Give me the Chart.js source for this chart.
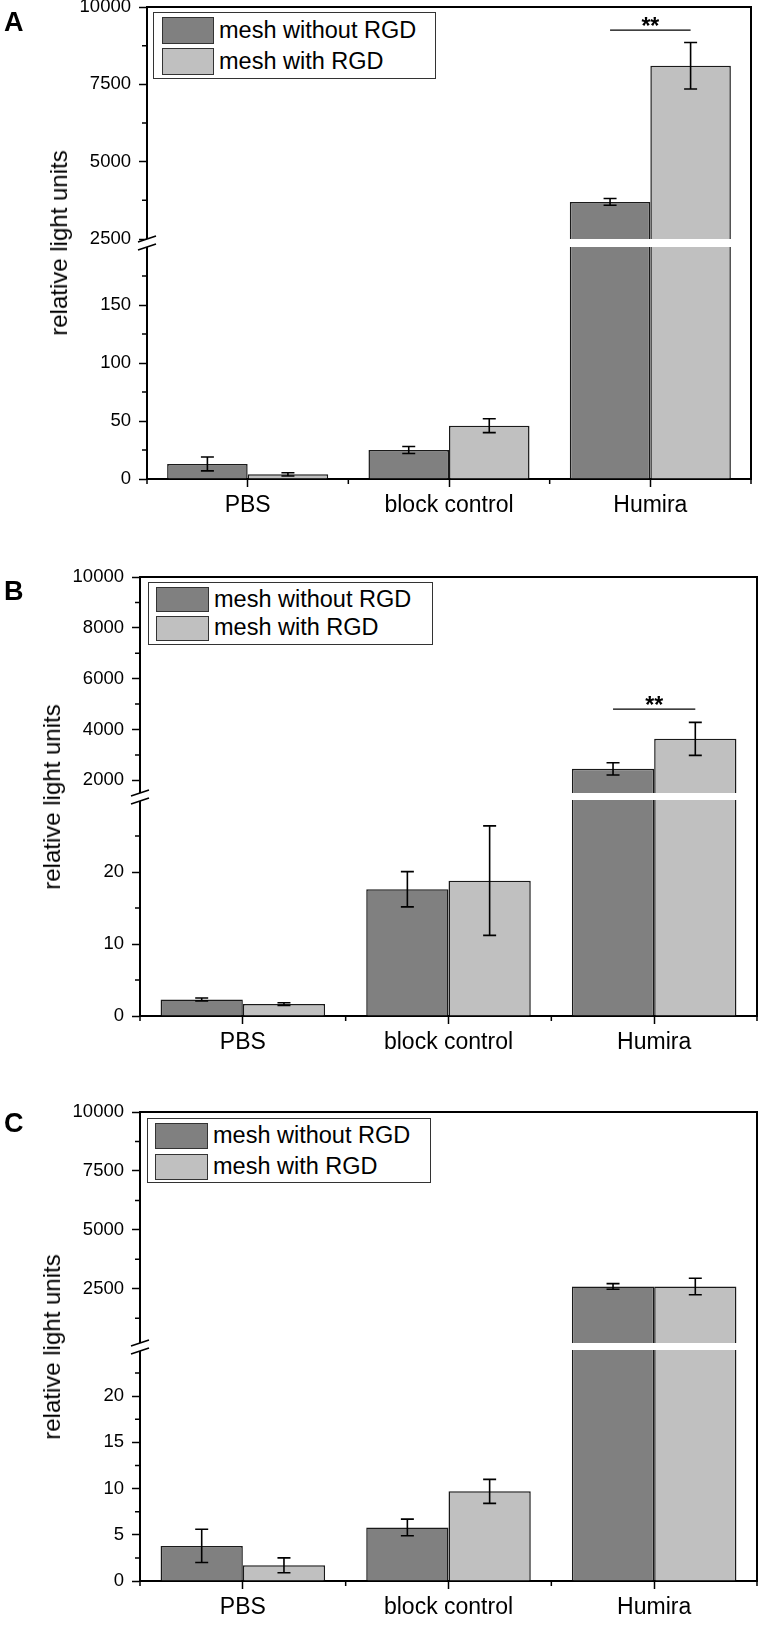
<!DOCTYPE html>
<html>
<head>
<meta charset="utf-8">
<script src="https://cdn.jsdelivr.net/npm/chart.js@4.4.0/dist/chart.umd.min.js"></script>
<style>
  html, body { margin: 0; padding: 0; background: #fff; }
  body { width: 759px; height: 1626px; position: relative; overflow: hidden;
         font-family: 'Liberation Sans', Arial, sans-serif; color: #000; }
  canvas { position: absolute; left: 0; }
  .letter { position: absolute; font-weight: bold; font-size: 27px; line-height: 1; }
  .ytitle { position: absolute; font-size: 24px; line-height: 1; white-space: nowrap;
            transform: translate(-50%, -50%) rotate(-90deg); }
  .legend { position: absolute; box-sizing: border-box; border: 1.5px solid #333; background: #fff; }
  .legend .sw { position: absolute; box-sizing: border-box; border: 1.5px solid #333; }
  .legend .tx { position: absolute; font-size: 23.5px; line-height: 1; white-space: nowrap;
                transform: translateY(-50%); }
</style>
</head>
<body>
<script>
// ---- shared categories and series ----
const categories = ['PBS', 'block control', 'Humira'];
const seriesNames = ['mesh without RGD', 'mesh with RGD'];
const seriesColors = ['#808080', '#c0c0c0'];
const yTitle = 'relative light units';
const sigText = '**';

// ---- panel A ----
const aWithout = [13, 25, 3700];
const aWithoutErr = [6, 3, 110];
const aWith = [4, 46, 8100];
const aWithErr = [1.4, 6, 750];
const aUpperRange = [2500, 10000];
const aUpperTicks = [2500, 5000, 7500, 10000];
const aUpperMinor = [3750, 6250, 8750];
const aLowerRange = [0, 200];
const aLowerTicks = [0, 50, 100, 150];
const aLowerMinor = [25, 75, 125, 175];
const aSigLevel = 9250;

// ---- panel B ----
const bWithout = [2.3, 17.6, 2450];
const bWithoutErr = [0.2, 2.45, 240];
const bWith = [1.65, 18.8, 3630];
const bWithErr = [0.2, 7.6, 650];
const bUpperRange = [1500, 10000];
const bUpperTicks = [2000, 4000, 6000, 8000, 10000];
const bUpperMinor = [3000, 5000, 7000, 9000];
const bLowerRange = [0, 30];
const bLowerTicks = [0, 10, 20];
const bLowerMinor = [5, 15, 25];
const bSigLevel = 4800;

// ---- panel C ----
const cWithout = [3.8, 5.8, 2600];
const cWithoutErr = [1.8, 0.9, 120];
const cWith = [1.7, 9.7, 2600];
const cWithErr = [0.8, 1.3, 350];
const cUpperRange = [200, 10000];
const cUpperTicks = [2500, 5000, 7500, 10000];
const cUpperMinor = [1250, 3750, 6250, 8750];
const cLowerRange = [0, 25];
const cLowerTicks = [0, 5, 10, 15, 20];
const cLowerMinor = [2.5, 7.5, 12.5, 17.5, 22.5];

const FONT = "'Liberation Sans', Arial, sans-serif";
const GAP = 8;      // white gap of the broken axis
const PAD = 24;     // canvas padding around each plot segment
const XAXIS_H = 45; // height reserved for the category axis

// Error bars, significance bracket, frame, minor ticks and axis break marks
const decorPlugin = {
  id: 'decor',
  afterDatasetsDraw(chart, args, o) {
    const ctx = chart.ctx, y = chart.scales.y;
    ctx.save();
    ctx.strokeStyle = '#000';
    ctx.lineWidth = 1.6;
    o.errors.forEach((errs, i) => {
      const meta = chart.getDatasetMeta(i);
      chart.data.datasets[i].data.forEach((v, j) => {
        if (v < y.min || v > y.max) return;
        const cx = meta.data[j].x;
        const t = y.getPixelForValue(v + errs[j]);
        const b = y.getPixelForValue(v - errs[j]);
        ctx.beginPath();
        ctx.moveTo(cx, t); ctx.lineTo(cx, b);
        ctx.moveTo(cx - 6.5, t); ctx.lineTo(cx + 6.5, t);
        ctx.moveTo(cx - 6.5, b); ctx.lineTo(cx + 6.5, b);
        ctx.stroke();
      });
    });
    if (o.sig) {
      const p0 = chart.getDatasetMeta(0).data[o.sig.index];
      const p1 = chart.getDatasetMeta(1).data[o.sig.index];
      const ly = y.getPixelForValue(o.sig.level);
      ctx.lineWidth = 1.2;
      ctx.beginPath();
      ctx.moveTo(p0.x, ly); ctx.lineTo(p1.x, ly);
      ctx.stroke();
      ctx.fillStyle = '#000';
      ctx.font = 'bold 23px ' + FONT;
      ctx.textAlign = 'center';
      ctx.textBaseline = 'alphabetic';
      ctx.fillText(o.sig.text, (p0.x + p1.x) / 2, ly + 3.5);
    }
    ctx.restore();
  },
  afterDraw(chart, args, o) {
    const ctx = chart.ctx, a = chart.chartArea, y = chart.scales.y, x = chart.scales.x;
    ctx.save();
    ctx.strokeStyle = '#000';
    // frame: top line and right line
    ctx.lineWidth = 2;
    ctx.beginPath();
    if (o.upper) {
      ctx.moveTo(a.left, a.top); ctx.lineTo(a.right, a.top);
      ctx.moveTo(a.right, a.top - 1); ctx.lineTo(a.right, a.bottom + GAP);
    } else {
      ctx.moveTo(a.right, a.top); ctx.lineTo(a.right, a.bottom);
    }
    ctx.stroke();
    // minor ticks on the value axis
    ctx.lineWidth = 1.5;
    ctx.beginPath();
    o.minor.forEach(v => {
      const py = y.getPixelForValue(v);
      ctx.moveTo(a.left - 1, py); ctx.lineTo(a.left - 5, py);
    });
    // minor ticks on the category axis, at group boundaries
    if (!o.upper) {
      const xs = [a.left, a.right];
      for (let j = 0; j < categories.length - 1; j++) {
        xs.push((x.getPixelForValue(j) + x.getPixelForValue(j + 1)) / 2);
      }
      xs.forEach(px => { ctx.moveTo(px, a.bottom); ctx.lineTo(px, a.bottom + 5); });
    }
    ctx.stroke();
    // break marks on the value axis
    if (o.upper) {
      const ax = a.left, g0 = a.bottom, g1 = a.bottom + GAP;
      ctx.fillStyle = '#fff';
      ctx.fillRect(ax - 3, g0, 6, GAP);
      ctx.lineWidth = 1.6;
      ctx.beginPath();
      [g0, g1].forEach(gy => { ctx.moveTo(ax - 9, gy + 3); ctx.lineTo(ax + 9, gy - 3); });
      ctx.stroke();
    }
    ctx.restore();
  }
};

// One plot segment (upper or lower part of a broken value axis)
function segment(cfg) {
  const cv = document.createElement('canvas');
  cv.width = 759; cv.height = cfg.height;
  cv.style.top = cfg.top + 'px';
  cv.style.width = '759px'; cv.style.height = cfg.height + 'px';
  document.body.appendChild(cv);
  return new Chart(cv, {
    type: 'bar',
    data: {
      labels: categories,
      datasets: cfg.series.map((d, i) => ({
        label: seriesNames[i], data: d,
        backgroundColor: seriesColors[i], borderColor: '#1a1a1a', borderWidth: 1.5,
        categoryPercentage: 0.8, barPercentage: 1.0
      }))
    },
    options: {
      responsive: false, animation: false, devicePixelRatio: 1,
      layout: { padding: { top: PAD, bottom: cfg.upper ? PAD : 0, left: 0, right: cfg.padRight } },
      plugins: {
        legend: { display: false }, tooltip: { enabled: false },
        decor: { upper: cfg.upper, errors: cfg.errors, minor: cfg.minor, sig: cfg.sig || null }
      },
      scales: {
        x: {
          display: !cfg.upper, offset: true,
          grid: { display: true, drawOnChartArea: false, offset: false, drawTicks: true,
                  tickLength: 8, tickWidth: 1.5, tickColor: '#000' },
          border: { display: true, color: '#000', width: 2 },
          ticks: { color: '#000', font: { family: FONT, size: 23 }, padding: 5,
                   maxRotation: 0, minRotation: 0, autoSkip: false },
          afterFit: s => { s.height = cfg.upper ? 0 : XAXIS_H; }
        },
        y: {
          min: cfg.range[0], max: cfg.range[1],
          afterBuildTicks: s => { s.ticks = cfg.ticks.map(v => ({ value: v })); },
          afterFit: s => { s.width = cfg.axisX; },
          grid: { display: true, drawOnChartArea: false, drawTicks: true,
                  tickLength: 8, tickWidth: 1.5, tickColor: '#000' },
          border: { display: true, color: '#000', width: 2 },
          ticks: { color: '#000', font: { family: FONT, size: 18.5 }, padding: 8,
                   callback: v => String(v) }
        }
      }
    },
    plugins: [decorPlugin]
  });
}

// A panel: lower segment drawn first, upper segment on top (carries break marks)
function panel(p) {
  segment({ upper: false, top: p.lowerTop - PAD, height: p.lowerBottom - p.lowerTop + PAD + XAXIS_H,
            axisX: p.axisX, padRight: 759 - p.right, range: p.lowerRange, ticks: p.lowerTicks,
            minor: p.lowerMinor, series: p.series, errors: p.errors });
  segment({ upper: true, top: p.upperTop - PAD, height: p.upperBottom - p.upperTop + 2 * PAD,
            axisX: p.axisX, padRight: 759 - p.right, range: p.upperRange, ticks: p.upperTicks,
            minor: p.upperMinor, series: p.series, errors: p.errors, sig: p.sig });

  const letter = document.createElement('div');
  letter.className = 'letter';
  letter.textContent = p.letter;
  letter.style.left = '4px';
  letter.style.top = p.letterTop + 'px';
  document.body.appendChild(letter);

  const t = document.createElement('div');
  t.className = 'ytitle';
  t.textContent = yTitle;
  t.style.left = p.titleX + 'px';
  t.style.top = ((p.upperTop + p.lowerBottom) / 2) + 'px';
  document.body.appendChild(t);

  const lg = document.createElement('div');
  lg.className = 'legend';
  Object.assign(lg.style, { left: p.lg.x + 'px', top: p.lg.y + 'px', width: p.lg.w + 'px', height: p.lg.h + 'px' });
  seriesNames.forEach((name, i) => {
    const sw = document.createElement('div');
    sw.className = 'sw';
    Object.assign(sw.style, { left: p.lg.sx + 'px', top: p.lg.rows[i] + 'px',
      width: p.lg.sw + 'px', height: p.lg.sh + 'px', background: seriesColors[i] });
    lg.appendChild(sw);
    const tx = document.createElement('div');
    tx.className = 'tx';
    tx.textContent = name;
    Object.assign(tx.style, { left: (p.lg.sx + p.lg.sw + 5) + 'px', top: (p.lg.rows[i] + p.lg.sh / 2) + 'px' });
    lg.appendChild(tx);
  });
  document.body.appendChild(lg);
}

panel({
  letter: 'A', letterTop: 9, titleX: 58.5, axisX: 147, right: 751,
  upperTop: 7, upperBottom: 239, lowerTop: 247, lowerBottom: 479,
  upperRange: aUpperRange, upperTicks: aUpperTicks, upperMinor: aUpperMinor,
  lowerRange: aLowerRange, lowerTicks: aLowerTicks, lowerMinor: aLowerMinor,
  series: [aWithout, aWith], errors: [aWithoutErr, aWithErr],
  sig: { index: 2, level: aSigLevel, text: sigText },
  lg: { x: 153, y: 12, w: 283, h: 67, sx: 8, sw: 52, sh: 27, rows: [4, 35] }
});

panel({
  letter: 'B', letterTop: 578, titleX: 52, axisX: 140, right: 757,
  upperTop: 577, upperBottom: 793, lowerTop: 800, lowerBottom: 1016,
  upperRange: bUpperRange, upperTicks: bUpperTicks, upperMinor: bUpperMinor,
  lowerRange: bLowerRange, lowerTicks: bLowerTicks, lowerMinor: bLowerMinor,
  series: [bWithout, bWith], errors: [bWithoutErr, bWithErr],
  sig: { index: 2, level: bSigLevel, text: sigText },
  lg: { x: 148, y: 582, w: 285, h: 63, sx: 7, sw: 53, sh: 25, rows: [4, 32.5] }
});

panel({
  letter: 'C', letterTop: 1110, titleX: 52, axisX: 140, right: 757,
  upperTop: 1112, upperBottom: 1343, lowerTop: 1350, lowerBottom: 1581,
  upperRange: cUpperRange, upperTicks: cUpperTicks, upperMinor: cUpperMinor,
  lowerRange: cLowerRange, lowerTicks: cLowerTicks, lowerMinor: cLowerMinor,
  series: [cWithout, cWith], errors: [cWithoutErr, cWithErr],
  lg: { x: 147, y: 1118, w: 284, h: 65, sx: 7, sw: 53, sh: 26, rows: [4, 34.5] }
});
</script>
</body>
</html>
